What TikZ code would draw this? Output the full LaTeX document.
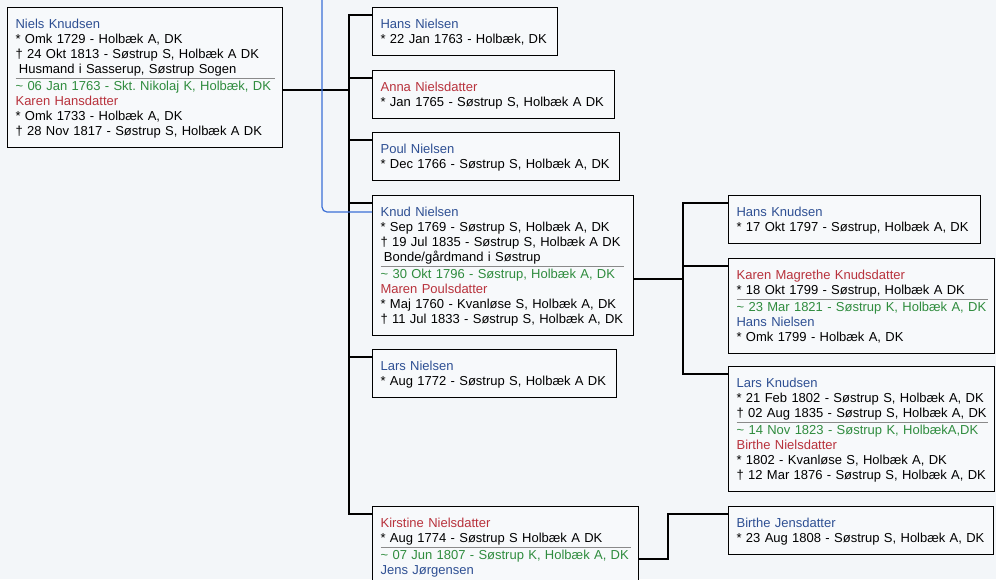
\documentclass[tikz,border=0pt]{standalone}
\usepackage{fontspec}
\setmainfont{Liberation Sans}
\usepackage{xcolor}
\usepackage{tikz}
\usetikzlibrary{positioning,calc}
\definecolor{nameblue}{HTML}{2E4F93}
\definecolor{namered}{HTML}{B8323C}
\definecolor{wedgreen}{HTML}{2F8C3E}
\definecolor{linkblue}{HTML}{3B6FD6}
\definecolor{rulegray}{HTML}{8A8A8A}
\definecolor{paper}{HTML}{F3F6F9}
\definecolor{boxfill}{HTML}{F7F9FB}
\frenchspacing
% one line of a person box
\newcommand{\bstrut}{\rule[-3pt]{0pt}{15pt}}
\newcommand{\mname}[1]{\bstrut\textcolor{nameblue}{#1}}
\newcommand{\fname}[1]{\bstrut\textcolor{namered}{#1}}
\newcommand{\born}[1]{\bstrut* #1}
\newcommand{\died}[1]{\bstrut† #1}
\newcommand{\occ}[1]{\bstrut\hspace*{3.3pt}#1}
\newcommand{\wed}[2]{\bstrut\makebox[0pt][l]{\raisebox{12.3pt}{\textcolor{rulegray}{\rule{#1}{0.6pt}}}}%
  \textcolor{wedgreen}{\textasciitilde\ #2}}
\tikzset{
  personbox/.style={
    rectangle, draw=black, fill=boxfill, line width=1.2pt,
    anchor=north west, align=left, text width=#1,
    inner xsep=8pt, inner ysep=9pt,
    font=\fontsize{13}{15}\selectfont
  },
  personbox/.default=230pt,
  famline/.style={line width=1.2pt, color=#1},
  famline/.default=black,
}
\begin{document}
\begin{tikzpicture}[x=1pt, y=-1pt]
  \clip (0,0) rectangle (996,579);
  \fill[paper] (0,0) rectangle (996,579);

  % Parents
  \node[personbox=259pt] (niels) at (7,7) {%
    \mname{Niels Knudsen}\\
    \born{Omk 1729 - Holbæk A, DK}\\
    \died{24 Okt 1813 - Søstrup S, Holbæk A DK}\\
    \occ{Husmand i Sasserup, Søstrup Sogen}\\
    \wed{259pt}{06 Jan 1763 - Skt. Nikolaj K, Holbæk, DK}\\
    \fname{Karen Hansdatter}\\
    \born{Omk 1733 - Holbæk A, DK}\\
    \died{28 Nov 1817 - Søstrup S, Holbæk A DK}};

  % Children
  \node[personbox=169pt] (hans) at (372,7) {%
    \mname{Hans Nielsen}\\
    \born{22 Jan 1763 - Holbæk, DK}};
  \node[personbox=226pt] (anna) at (372,70) {%
    \fname{Anna Nielsdatter}\\
    \born{Jan 1765 - Søstrup S, Holbæk A DK}};
  \node[personbox=231pt] (poul) at (372,132) {%
    \mname{Poul Nielsen}\\
    \born{Dec 1766 - Søstrup S, Holbæk A, DK}};
  \node[personbox=245pt] (knud) at (372,195) {%
    \mname{Knud Nielsen}\\
    \born{Sep 1769 - Søstrup S, Holbæk A, DK}\\
    \died{19 Jul 1835 - Søstrup S, Holbæk A DK}\\
    \occ{Bonde/gårdmand i Søstrup}\\
    \wed{243pt}{30 Okt 1796 - Søstrup, Holbæk A, DK}\\
    \fname{Maren Poulsdatter}\\
    \born{Maj 1760 - Kvanløse S, Holbæk A, DK}\\
    \died{11 Jul 1833 - Søstrup S, Holbæk A, DK}};
  \node[personbox=228pt] (lars) at (372,349) {%
    \mname{Lars Nielsen}\\
    \born{Aug 1772 - Søstrup S, Holbæk A DK}};
  \node[personbox=250pt] (kirstine) at (372,506) {%
    \fname{Kirstine Nielsdatter}\\
    \born{Aug 1774 - Søstrup S Holbæk A DK}\\
    \wed{250pt}{07 Jun 1807 - Søstrup K, Holbæk A, DK}\\
    \mname{Jens Jørgensen}};

  % Grandchildren
  \node[personbox=236pt] (hansk) at (728,195) {%
    \mname{Hans Knudsen}\\
    \born{17 Okt 1797 - Søstrup, Holbæk A, DK}};
  \node[personbox=250pt] (karen) at (728,258) {%
    \fname{Karen Magrethe Knudsdatter}\\
    \born{18 Okt 1799 - Søstrup, Holbæk A DK}\\
    \wed{251pt}{23 Mar 1821 - Søstrup K, Holbæk A, DK}\\
    \mname{Hans Nielsen}\\
    \born{Omk 1799 - Holbæk A, DK}};
  \node[personbox=250pt] (larsk) at (728,366) {%
    \mname{Lars Knudsen}\\
    \born{21 Feb 1802 - Søstrup S, Holbæk A, DK}\\
    \died{02 Aug 1835 - Søstrup S, Holbæk A, DK}\\
    \wed{251pt}{14 Nov 1823 - Søstrup K, HolbækA,DK}\\
    \fname{Birthe Nielsdatter}\\
    \born{1802 - Kvanløse S, Holbæk A, DK}\\
    \died{12 Mar 1876 - Søstrup S, Holbæk A, DK}};
  \node[personbox=249pt] (birthe) at (728,506) {%
    \mname{Birthe Jensdatter}\\
    \born{23 Aug 1808 - Søstrup S, Holbæk A, DK}};

  % Family lines
  \coordinate (midjoin) at (349,90);
  \draw[famline] (niels.east |- midjoin) -- (midjoin);
  \draw[famline] ([yshift=-8pt]hans.north west) -| (midjoin)
    |- ([yshift=-8pt]kirstine.north west);
  \foreach \c in {anna,poul,knud,lars} {
    \path ([yshift=-8pt]\c.north west) coordinate (\c-in);
    \draw[famline] (\c-in) -- (\c-in -| midjoin);
  }

  \coordinate (rightjoin) at (683,279);
  \draw[famline] (knud.east |- rightjoin) -- (rightjoin);
  \draw[famline] ([yshift=-8pt]hansk.north west) -| (rightjoin)
    |- ([yshift=-8pt]larsk.north west);
  \path ([yshift=-8pt]karen.north west) coordinate (karen-in);
  \draw[famline] (karen-in) -- (karen-in -| rightjoin);

  \coordinate (lowjoin) at (668,559);
  \draw[famline] (kirstine.east |- lowjoin) -- (lowjoin)
    |- ([yshift=-8pt]birthe.north west);

  % Line of descent
  \coordinate (linktop) at (322,-2);
  \draw[famline=linkblue, rounded corners=5pt]
    (linktop) |- ([yshift=-17pt]knud.north west);
\end{tikzpicture}
\end{document}
